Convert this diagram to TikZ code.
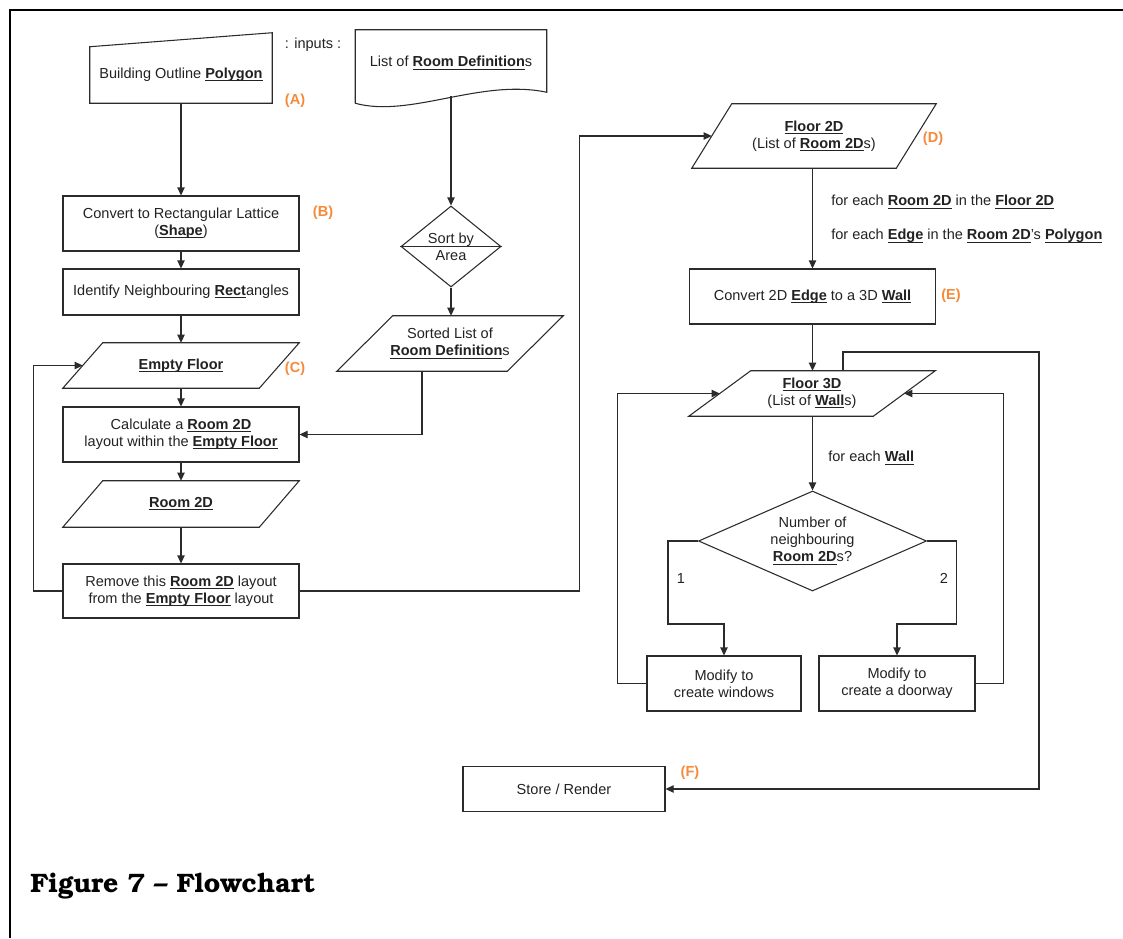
\documentclass[tikz,border=0pt]{standalone}
\usepackage[T1]{fontenc}
\usepackage{fontspec}
\setmainfont{Liberation Sans}
\usepackage{xcolor}
\usepackage{tikz}
\usetikzlibrary{calc,arrows.meta,shapes.geometric}
\definecolor{ink}{HTML}{222222}
\definecolor{edge}{HTML}{2B2B2B}
\definecolor{tagc}{HTML}{F58A3A}
\newcommand{\ulb}[1]{\underline{\raisebox{0pt}[\height][0pt]{\textbf{#1}}}}
% slanted outline round a node: #1 node, #2 half of the slant
\newcommand{\slantbox}[2]{\draw[base] ($(#1.south west)+(-#2,0)$) -- ($(#1.north west)+(#2,0)$) -- ($(#1.north east)+(#2,0)$) -- ($(#1.south east)+(-#2,0)$) -- cycle;}
\def\pxu{0.75pt}
\tikzset{
  base/.style={draw=edge, line width=0.8pt, line join=miter},
  proc/.style={base, rectangle, text=ink, align=center, inner sep=0pt},
  io/.style={rectangle, text=ink, align=center, inner sep=0pt},
  choice/.style={base, diamond, text=ink, align=center, inner sep=0pt},
  wire/.style={draw=edge, line width=0.8pt},
  arr/.style={wire, -{Triangle[length=6pt,width=5.5pt]}},
  tag/.style={text=tagc, font=\fontsize{10.9}{13}\selectfont\bfseries},
  note/.style={text=ink, anchor=west, inner sep=0pt}
}

\begin{document}
\begin{tikzpicture}[x=0.75pt, y=-0.75pt, font=\fontsize{10.9}{12.75}\selectfont]
  \useasboundingbox (0,0) rectangle (1123,938);
  \draw[line width=1.5pt] (10,938) -- (10,10) -- (1123,10);

  % inputs
  \node[text=ink, inner sep=0pt, minimum width=182*\pxu, minimum height=56*\pxu] (outline) at (181,75) {Building Outline \ulb{Polygon}};
  \draw[base] (outline.south west) -- (outline.north west) -- ($(outline.north east)+(0,-14)$) -- (outline.south east) -- cycle;
  \node[text=ink] (inputs) at (313,45) {: inputs :};
  \node[text=ink, inner sep=0pt, minimum width=191*\pxu, minimum height=66*\pxu] (roomdefs) at (451,63) {List of \ulb{Room Definition}s};
  \draw[base] ($(roomdefs.south west)+(0,7)$) -- (roomdefs.north west) -- (roomdefs.north east) -- ($(roomdefs.south east)+(0,-4)$)
    .. controls +(-66,-14) and +(55,15) .. ($(roomdefs.south west)+(0,7)$);

  % left column
  \node[proc, minimum width=236*\pxu, minimum height=55*\pxu] (lattice) at (181,223.5) {Convert to Rectangular Lattice\\(\ulb{Shape})};
  \node[proc, minimum width=236*\pxu, minimum height=46*\pxu] (neigh) at (181,292) {Identify Neighbouring \ulb{Rect}angles};
  \node[io, minimum width=196*\pxu, minimum height=45*\pxu] (empty) at (181,365.5) {\ulb{Empty Floor}};
  \slantbox{empty}{20}
  \node[proc, minimum width=236*\pxu, minimum height=55*\pxu] (place) at (181,434.5) {Calculate a \ulb{Room 2D}\\layout within the \ulb{Empty Floor}};
  \node[io, minimum width=196*\pxu, minimum height=46*\pxu] (room) at (181,504) {\ulb{Room 2D}};
  \slantbox{room}{20}
  \node[proc, minimum width=236*\pxu, minimum height=54*\pxu] (remove) at (181,591) {Remove this \ulb{Room 2D} layout\\from the \ulb{Empty Floor} layout};

  % sorting
  \node[choice, aspect=1.235, minimum width=100*\pxu, minimum height=81*\pxu] (sortd) at (451,246.5) {Sort by\\Area};
  \draw[wire] (sortd.west) -- (sortd.east);
  \node[io, minimum width=170*\pxu, minimum height=55*\pxu] (sorted) at (450,343.5) {Sorted List of\\\ulb{Room Definition}s};
  \slantbox{sorted}{28}

  % right column
  \node[io, minimum width=204*\pxu, minimum height=64*\pxu] (floor2) at (814,136) {\ulb{Floor 2D}\\(List of \ulb{Room 2D}s)};
  \slantbox{floor2}{20}
  \node[proc, minimum width=246*\pxu, minimum height=55*\pxu] (wall) at (812.5,296.5) {Convert 2D \ulb{Edge} to a 3D \ulb{Wall}};
  \node[io, minimum width=184*\pxu, minimum height=45*\pxu] (floor3) at (812,393.5) {\ulb{Floor 3D}\\(List of \ulb{Wall}s)};
  \slantbox{floor3}{31}
  \node[choice, aspect=2.28, minimum width=228*\pxu, minimum height=100*\pxu] (decide) at (812.5,541) {Number of\\neighbouring\\\ulb{Room 2D}s?};
  \node[proc, minimum width=154*\pxu, minimum height=55*\pxu] (windows) at (724,683.5) {Modify to\\create windows};
  \node[proc, minimum width=156*\pxu, minimum height=55*\pxu] (doorway) at (897,683.5) {Modify to\\create a doorway};
  \node[proc, minimum width=202*\pxu, minimum height=45*\pxu] (store) at (564,789) {Store / Render};

  \node[note] (each1) at (831,202) {for each \ulb{Room 2D} in the \ulb{Floor 2D}};
  \node[note] (each2) at (831,236) {for each \ulb{Edge} in the \ulb{Room 2D}'s \ulb{Polygon}};
  \node[note] (each3) at (828,458) {for each \ulb{Wall}};
  \node[text=ink] (one) at (681,578) {1};
  \node[text=ink] (two) at (944,578) {2};

  \node[tag] (tagA) at (295,101) {(A)};
  \node[tag] (tagB) at (323,213) {(B)};
  \node[tag] (tagC) at (295,369) {(C)};
  \node[tag] (tagD) at (933,139) {(D)};
  \node[tag] (tagE) at (951,296) {(E)};
  \node[tag] (tagF) at (690,773) {(F)};

  % connectors
  \draw[arr] (outline) -- (lattice);
  \draw[arr] (lattice) -- (neigh);
  \draw[arr] (neigh) -- (empty);
  \draw[arr] (empty) -- (place);
  \draw[arr] (place) -- (room);
  \draw[arr] (room) -- (remove);
  \draw[arr] (remove.west) -- ++(-29,0) |- (empty.west);
  \draw[arr] (roomdefs.south) -- (sortd.north);
  \draw[arr] (sortd) -- (sortd |- sorted.north);
  \draw[arr] ($(sorted.south)+(-28,0)$) |- (place.east);
  \draw[arr] (remove.east) -- ++(280,0) |- (floor2.west);
  \draw[arr] (floor2.south -| wall.north) -- (wall.north);
  \draw[arr] (wall) -- (wall |- floor3.north);
  \draw[arr] (floor3.south -| decide.north) -- (decide.north);
  \draw[arr] (decide.west) -- ++(-30,0) -- ++(0,83) -| (windows.north);
  \draw[arr] (decide.east) -- ++(29,0) -- ++(0,83) -| (doorway.north);
  \draw[arr] (windows.west) -- ++(-29,0) |- (floor3.west);
  \draw[arr] (doorway.east) -- ++(28,0) |- (floor3.east);
  \coordinate (back) at (1039,352);
  \draw[arr] ($(floor3.north)+(31,0)$) |- (back) |- (store.east);

  \node[anchor=west, inner sep=0pt, font=\fontencoding{T1}\fontfamily{pbk}\fontseries{b}\fontsize{20}{22}\selectfont] (caption) at (30,886) {Figure 7 -- Flowchart};
\end{tikzpicture}
\end{document}
